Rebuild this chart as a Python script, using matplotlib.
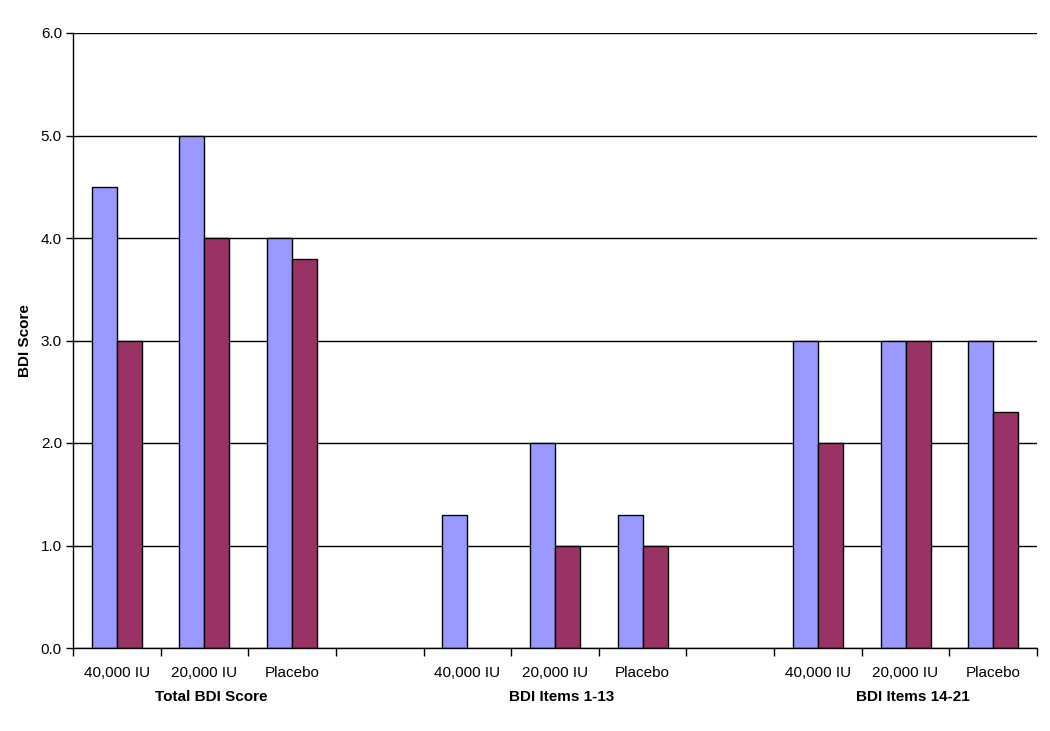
import numpy as np
import matplotlib.pyplot as plt

plt.rcParams['font.family'] = ['Liberation Sans', 'DejaVu Sans']

# data: 11 slots (3 groups of 3 doses, with empty spacer slots between)
doses = ['40,000 IU', '20,000 IU', 'Placebo', '',
         '40,000 IU', '20,000 IU', 'Placebo', '',
         '40,000 IU', '20,000 IU', 'Placebo']
groups = ['Total BDI Score', 'BDI Items 1-13', 'BDI Items 14-21']
baseline = [4.5, 5.0, 4.0, 0, 1.3, 2.0, 1.3, 0, 3.0, 3.0, 3.0]
followup = [3.0, 4.0, 3.8, 0, 0.0, 1.0, 1.0, 0, 2.0, 3.0, 2.3]
yticks = [0.0, 1.0, 2.0, 3.0, 4.0, 5.0, 6.0]

fig = plt.figure(figsize=(10.5, 7.31), dpi=100)
ax = fig.add_axes([73/1050, 83/731, 964/1050, 615/731])

x = np.arange(len(doses))
w = 0.285
b1 = ax.bar(x - w/2, baseline, w, color='#9999FF', edgecolor='black', linewidth=1, zorder=3)
b2 = ax.bar(x + w/2, followup, w, color='#993366', edgecolor='black', linewidth=1, zorder=3)
# empty slots: hide zero-height bars
for bars in (b1, b2):
    for r in bars:
        if r.get_height() == 0:
            r.set_visible(False)

ax.set_xlim(-0.5, len(doses) - 0.5)
ax.set_ylim(0, 6)
ax.set_yticks(yticks)
ax.set_yticklabels([f'{v:.1f}' for v in yticks], fontsize=11)
ax.yaxis.grid(True, color='black', linewidth=1, zorder=0)
ax.tick_params(axis='y', length=5, width=1, pad=3)

ax.set_xticks(x)
ax.set_xticklabels(doses, fontsize=11)
ax.tick_params(axis='x', which='major', length=0, pad=13)
ax.set_xticks(np.arange(-0.5, len(doses)), minor=True)
ax.tick_params(axis='x', which='minor', length=6, width=1, direction='out')

ax.spines['right'].set_visible(False)
ax.spines['top'].set_visible(False)
ax.spines['left'].set_linewidth(1)
ax.spines['bottom'].set_linewidth(1)
ax.spines['bottom'].set_zorder(4)

for i, g in enumerate(groups):
    ax.text(i * 4 + 1 + 0.08, -0.48, g, ha='center', va='center',
            fontsize=11, fontweight='bold', transform=ax.transData)

ax.set_ylabel('BDI Score', fontsize=11, fontweight='bold', labelpad=6)

fig.savefig('out.png', dpi=100)
